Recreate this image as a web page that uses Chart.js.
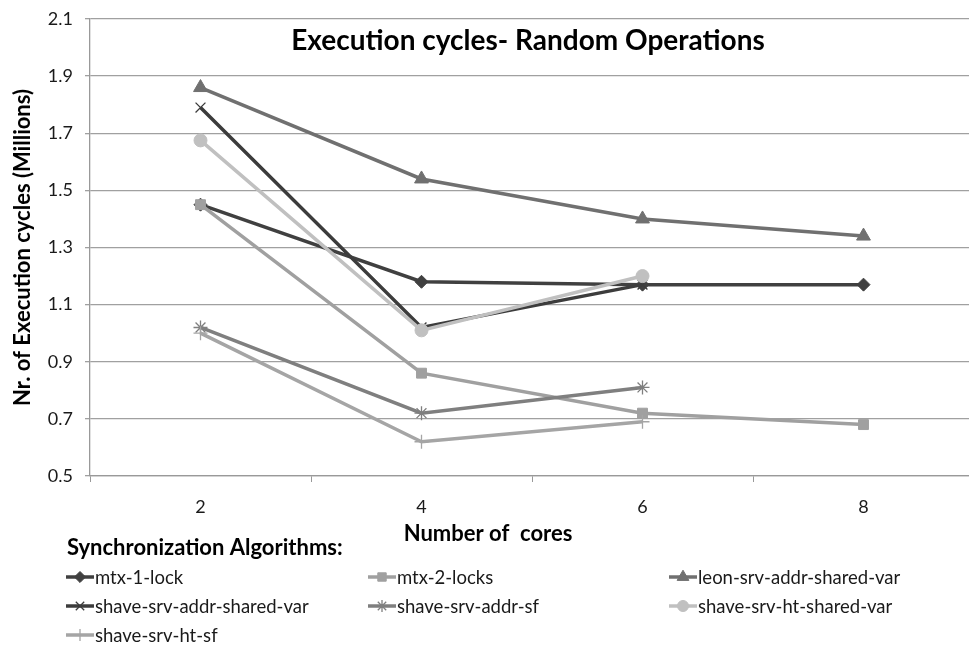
<!DOCTYPE html>
<html>
<head>
<meta charset="utf-8">
<script src="https://cdn.jsdelivr.net/npm/chart.js@4/dist/chart.umd.min.js"></script>
<style>
  html, body { margin: 0; padding: 0; background: #fff; overflow: hidden; }
  #wrap { width: 969px; height: 651px; overflow: hidden; position: relative; }
  #box { width: 985px; height: 651px; position: absolute; left: 0; top: 0; }
</style>
</head>
<body>
<div id="wrap"><div id="box"><canvas id="cycles"></canvas></div></div>
<script>
const cores = ['2', '4', '6', '8'];

const mtx1Lock = [1.45, 1.18, 1.17, 1.17];
const mtx2Locks = [1.45, 0.86, 0.72, 0.68];
const leonAddrShared = [1.86, 1.54, 1.40, 1.34];
const shaveAddrShared = [1.79, 1.02, 1.17, null];
const shaveAddrSf = [1.02, 0.72, 0.81, null];
const shaveHtShared = [1.675, 1.01, 1.20, null];
const shaveHtSf = [1.00, 0.62, 0.69, null];

const seriesNames = [
    'mtx-1-lock', 'mtx-2-locks', 'leon-srv-addr-shared-var',
    'shave-srv-addr-shared-var', 'shave-srv-addr-sf', 'shave-srv-ht-shared-var',
    'shave-srv-ht-sf'
];

const FONT = 'Lato, "Open Sans", sans-serif';

function series(i, data, color, style, radius, bw) {
    return {
        label: seriesNames[i],
        data: data,
        borderColor: color,
        backgroundColor: color,
        borderWidth: 3.5,
        pointStyle: style,
        pointRadius: radius,
        pointHoverRadius: radius,
        pointBorderWidth: bw,
        pointBackgroundColor: color,
        pointBorderColor: color,
        tension: 0,
        spanGaps: false,
        order: 6 - i
    };
}

const datasets = [
    series(0, mtx1Lock, '#404040', 'rectRot', 6.5, 1),
    series(1, mtx2Locks, '#a0a0a0', 'rect', 7, 1),
    series(2, leonAddrShared, '#707070', 'triangle', 8, 1),
    series(3, shaveAddrShared, '#3c3c3c', 'crossRot', 7, 1.3),
    series(4, shaveAddrSf, '#7f7f7f', 'star', 7, 1.3),
    series(5, shaveHtShared, '#c0c0c0', 'circle', 6.5, 1),
    series(6, shaveHtSf, '#a5a5a5', 'cross', 7, 1.3)
];

// title, x axis title and the legend block are painted by hand
const extraText = {
    id: 'extraText',
    afterDraw(chart) {
        const ctx = chart.ctx;
        ctx.save();
        ctx.fillStyle = '#000';
        ctx.textBaseline = 'middle';
        ctx.textAlign = 'center';
        ctx.font = 'bold 28px ' + FONT;
        ctx.fillText('Execution cycles- Random Operations', 528, 41);

        ctx.font = 'bold 22px ' + FONT;
        ctx.fillText('Number of  cores', 488, 534);

        ctx.textAlign = 'left';
        ctx.fillText('Synchronization Algorithms:', 67, 548);

        const cols = [66, 368, 669];
        ctx.font = '18.5px ' + FONT;
        chart.data.datasets.forEach((ds, i) => {
            const x0 = cols[i % 3];
            const y = 577 + Math.floor(i / 3) * 29;
            ctx.strokeStyle = ds.borderColor;
            ctx.lineWidth = 3.5;
            ctx.beginPath();
            ctx.moveTo(x0, y);
            ctx.lineTo(x0 + 28, y);
            ctx.stroke();
            ctx.fillStyle = ds.pointBackgroundColor;
            ctx.strokeStyle = ds.pointBorderColor;
            ctx.lineWidth = ds.pointBorderWidth;
            Chart.helpers.drawPoint(ctx, {
                pointStyle: ds.pointStyle,
                radius: ds.pointRadius * 0.85,
                rotation: 0,
                borderWidth: ds.pointBorderWidth
            }, x0 + 14, y);
            ctx.fillStyle = '#1a1a1a';
            ctx.fillText(ds.label, x0 + 29, y + 1);
        });
        ctx.restore();
    }
};

new Chart(document.getElementById('cycles'), {
    type: 'line',
    data: { labels: cores, datasets: datasets },
    options: {
        responsive: true,
        maintainAspectRatio: false,
        animation: false,
        layout: { padding: { top: 19, right: 11, bottom: 106, left: 0 } },
        plugins: {
            legend: { display: false },
            tooltip: { enabled: false }
        },
        scales: {
            x: {
                offset: true,
                grid: {
                    offset: true,
                    drawOnChartArea: false,
                    drawTicks: true,
                    tickLength: 6,
                    color: '#999'
                },
                border: { color: '#999', width: 1.3 },
                ticks: { color: '#1a1a1a', font: { family: FONT, size: 18 }, padding: 14 },
                afterFit(scale) { scale.height = 69; }
            },
            y: {
                min: 0.5,
                max: 2.1,
                grid: { color: '#a0a0a0', lineWidth: 1.3, tickLength: 5 },
                border: { color: '#999', width: 1.3 },
                ticks: {
                    stepSize: 0.2,
                    color: '#1a1a1a',
                    font: { family: FONT, size: 18 },
                    padding: 12,
                    callback: v => v.toFixed(1)
                },
                title: {
                    display: true,
                    text: 'Nr. of Execution cycles (Millions)',
                    color: '#000',
                    font: { family: FONT, size: 22, weight: 'bold' },
                    padding: { top: 10, bottom: 4 }
                },
                afterFit(scale) {
                    scale.width = 90;
                    scale.paddingTop = 0;
                    scale.paddingBottom = 0;
                }
            }
        }
    },
    plugins: [extraText]
});
</script>
</body>
</html>
